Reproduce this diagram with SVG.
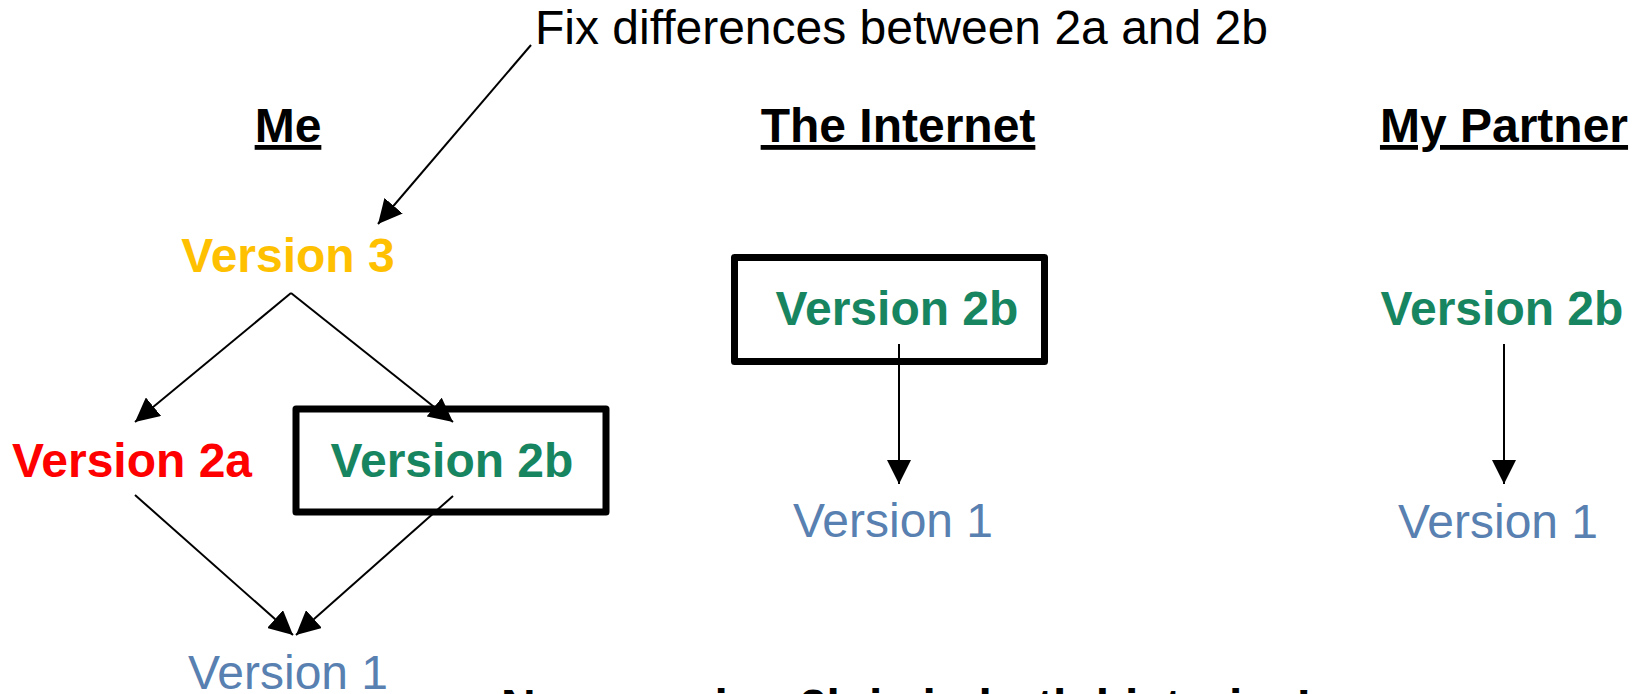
<svg xmlns="http://www.w3.org/2000/svg" width="1637" height="694" viewBox="0 0 1637 694">
<style>
text{font-family:"Liberation Sans",Arial,sans-serif;font-size:48px}
.b{font-weight:bold}
.h{font-weight:bold;text-decoration:underline}
.v1{fill:#5880B1}
.v2b{fill:#17855F;font-weight:bold}
.box{fill:none;stroke:#000;stroke-width:7;stroke-linejoin:round}
.c line{stroke:#000;stroke-width:2;marker-end:url(#ah)}
</style>
<defs>
<marker id="ah" markerUnits="userSpaceOnUse" markerWidth="24" markerHeight="24" refX="22" refY="11" orient="auto" viewBox="0 0 22 22">
<path d="M0,0 L22,11 L0,22 z" fill="#000"/>
</marker>
</defs>
<rect width="1637" height="694" fill="#fff"/>
<g id="note"><text x="535" y="44">Fix differences between 2a and 2b</text></g>
<g id="head-me"><text class="h" x="288" y="142" text-anchor="middle">Me</text></g>
<g id="head-internet"><text class="h" x="898" y="142" text-anchor="middle">The Internet</text></g>
<g id="head-partner"><text class="h" x="1504" y="142" text-anchor="middle">My Partner</text></g>
<g id="me-v3"><text class="b" x="288" y="272" text-anchor="middle" fill="#FFC000">Version 3</text></g>
<g id="me-v2a"><text class="b" x="132" y="477" text-anchor="middle" fill="#FF0000">Version 2a</text></g>
<g id="me-v2b"><rect class="box" x="296" y="409" width="310" height="103"/><text class="v2b" x="452" y="477" text-anchor="middle">Version 2b</text></g>
<g id="me-v1"><text class="v1" x="288" y="689" text-anchor="middle">Version 1</text></g>
<g id="net-v2b"><rect class="box" x="734.5" y="257.5" width="310" height="104"/><text class="v2b" x="897" y="325" text-anchor="middle">Version 2b</text></g>
<g id="net-v1"><text class="v1" x="893" y="537" text-anchor="middle">Version 1</text></g>
<g id="partner-v2b"><text class="v2b" x="1502" y="324.5" text-anchor="middle">Version 2b</text></g>
<g id="partner-v1"><text class="v1" x="1498" y="538" text-anchor="middle">Version 1</text></g>
<g id="caption"><text class="b" x="501" y="723">Now version 2b is in both histories!</text></g>
<g id="connectors" class="c">
<line x1="531" y1="45" x2="378" y2="224"/>
<line x1="291" y1="293" x2="135" y2="422"/>
<line x1="291" y1="293" x2="453" y2="422"/>
<line x1="135" y1="495" x2="293" y2="635"/>
<line x1="453" y1="496" x2="296" y2="635"/>
<line x1="899" y1="344" x2="899" y2="484"/>
<line x1="1504" y1="344" x2="1504" y2="484"/>
</g>
</svg>
